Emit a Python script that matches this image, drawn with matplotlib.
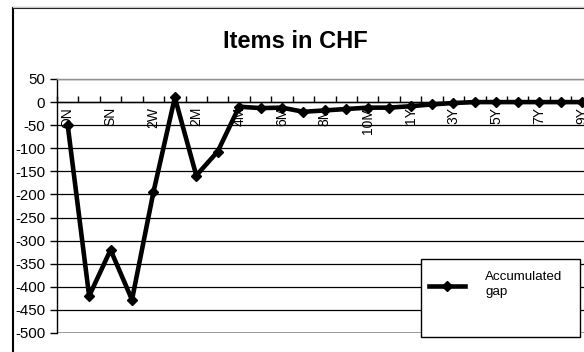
import matplotlib
matplotlib.use("Agg")
import matplotlib.pyplot as plt
from matplotlib.lines import Line2D
from matplotlib.patches import Rectangle

plt.rcParams['font.family'] = ['Liberation Sans', 'DejaVu Sans']

# ---- data ----
categories = ['ON', 'TN', 'SN', '1W', '2W', '1M', '2M', '3M', '4M', '5M', '6M', '7M',
              '8M', '9M', '10M', '11M', '1Y', '2Y', '3Y', '4Y', '5Y', '6Y', '7Y', '8Y', '9Y']
accumulated_gap = [-50, -420, -320, -428, -195, 10, -159, -107, -10, -13, -12, -21,
                   -18, -15, -12, -12, -9, -5, -2, 0, 0, 0, 0, 0, 0]
y_ticks = [-500, -450, -400, -350, -300, -250, -200, -150, -100, -50, 0, 50]
title = 'Items in CHF'
series_name = 'Accumulated\ngap'

W, H = 584, 352
fig = plt.figure(figsize=(W / 100, H / 100), dpi=100)

n = len(categories)
ax = fig.add_axes([57 / W, 19 / H, 535.7 / W, 254 / H])
x = list(range(n))
ax.plot(x, accumulated_gap, color='black', lw=3.3, marker='D', ms=5.2,
        markerfacecolor='black', markeredgecolor='black', zorder=5, clip_on=False)

ax.set_xlim(-0.5, n - 0.5)
ax.set_ylim(y_ticks[0], y_ticks[-1])

# y axis
ax.set_yticks(y_ticks)
ax.set_yticklabels([str(v) for v in y_ticks])
ax.tick_params(axis='y', direction='out', length=5, width=1, color='black',
               labelsize=10.8, pad=3.5)
ax.yaxis.grid(True, color='black', lw=0.9)
ax.set_axisbelow(True)

# x axis at zero
ax.spines['bottom'].set_position(('data', 0))
ax.spines['bottom'].set_color('black')
ax.spines['bottom'].set_linewidth(1)
ax.spines['left'].set_color('black')
ax.spines['left'].set_linewidth(1)
ax.spines['right'].set_visible(False)
ax.spines['top'].set_color('#909090')
ax.spines['top'].set_linewidth(1)
ax.axhline(y_ticks[0], color='#909090', lw=1.2, zorder=1.5)

ax.set_xticks(x)
ax.set_xticklabels([c if i % 2 == 0 else '' for i, c in enumerate(categories)],
                   rotation=90, ha='center', va='top')
ax.tick_params(axis='x', which='major', length=0, labelsize=10, pad=3.5)
ax.set_xticks([i - 0.5 for i in range(n + 1)], minor=True)
ax.tick_params(axis='x', which='minor', direction='in', length=4, width=1, color='black')

# title
fig.text(295.5 / W, 1 - 41 / H, title, ha='center', va='center',
         fontsize=17, fontweight='bold')

# chart-area frame
fig.add_artist(Line2D([13 / W, 13 / W], [0, 1 - 8 / H], color='black', lw=1.5,
                      transform=fig.transFigure))
fig.add_artist(Line2D([13 / W, 1], [1 - 8 / H, 1 - 8 / H], color='black', lw=1.5,
                      transform=fig.transFigure))
fig.add_artist(Line2D([13 / W, 1], [1 - 6.5 / H, 1 - 6.5 / H], color='#c8c8c8', lw=1,
                      transform=fig.transFigure))

# legend
fig.add_artist(Rectangle((421 / W, (H - 337) / H), 159 / W, 78 / H,
                         transform=fig.transFigure, facecolor='white',
                         edgecolor='black', lw=1, zorder=10))
fig.add_artist(Line2D([429 / W, 465 / W], [1 - 285.7 / H, 1 - 285.7 / H],
                      color='black', lw=3.3, transform=fig.transFigure, zorder=11))
fig.add_artist(Line2D([447 / W], [1 - 285.7 / H], marker='D', ms=5.2, color='black',
                      transform=fig.transFigure, zorder=12))
fig.text(485 / W, 1 - 270.5 / H, series_name, ha='left', va='top',
         fontsize=9.6, linespacing=1.35, zorder=13)

fig.savefig('out.png', dpi=100)
